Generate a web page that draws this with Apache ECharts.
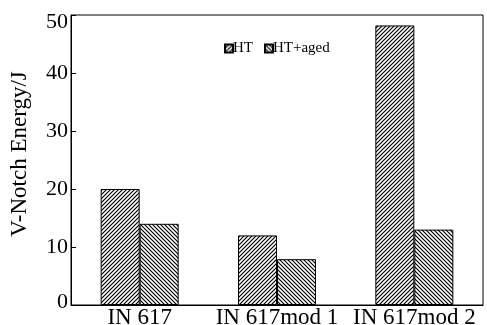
<!DOCTYPE html>
<html><head><meta charset="utf-8">
<script src="https://cdn.jsdelivr.net/npm/echarts@6/dist/echarts.min.js"></script>
<style>html,body{margin:0;padding:0;background:#fff}#c{width:487px;height:325px}</style>
</head><body><div id="c"></div>
<script>
const categories = ['IN 617', 'IN 617mod 1', 'IN 617mod 2'];
const htValues = [20, 12, 48.2];
const agedValues = [14, 7.9, 13];
const yTicks = [0, 10, 20, 30, 40, 50];

function hatch(dir) {
  const s = 4;
  const c = document.createElement('canvas');
  c.width = s; c.height = s;
  const g = c.getContext('2d');
  g.fillStyle = '#fff'; g.fillRect(0, 0, s, s);
  g.strokeStyle = '#000'; g.lineWidth = 1.2;
  g.beginPath();
  if (dir > 0) {
    g.moveTo(-1, s + 1); g.lineTo(s + 1, -1);
    g.moveTo(-1, 1); g.lineTo(1, -1);
    g.moveTo(s - 1, s + 1); g.lineTo(s + 1, s - 1);
  } else {
    g.moveTo(-1, -1); g.lineTo(s + 1, s + 1);
    g.moveTo(s - 1, -1); g.lineTo(s + 1, 1);
    g.moveTo(-1, s - 1); g.lineTo(1, s + 1);
  }
  g.stroke();
  return { image: c, repeat: 'repeat' };
}

const font = '"Liberation Serif", "Times New Roman", serif';
const chart = echarts.init(document.getElementById('c'), null, { renderer: 'canvas' });
chart.setOption({
  animation: false,
  backgroundColor: '#fff',
  textStyle: { fontFamily: font, color: '#000' },
  grid: { left: 71, right: 4, top: 15, bottom: 20, show: true, borderColor: '#000', borderWidth: 1,
          containLabel: false, outerBoundsMode: 'none' },
  legend: {
    top: 36, left: 219,
    itemWidth: 8, itemHeight: 8, itemGap: 11,
    icon: 'rect',
    textStyle: { fontFamily: font, fontSize: 15, color: '#000', padding: [0, 0, 0, -5] },
    data: ['HT', 'HT+aged']
  },
  xAxis: {
    type: 'category', data: categories,
    axisLine: { lineStyle: { color: '#000' } },
    axisTick: { show: false },
    axisLabel: { fontFamily: font, fontSize: 23, color: '#000', margin: 1, interval: 0, hideOverlap: false }
  },
  yAxis: {
    type: 'value', min: 0, max: 50, interval: 10,
    name: 'V-Notch Energy/J', nameLocation: 'middle', nameGap: 40,
    nameTextStyle: { fontFamily: font, fontSize: 23, color: '#000', padding: [0, 0, 0, 12] },
    axisLine: { show: true, lineStyle: { color: '#000' } },
    axisTick: { show: true, inside: true, length: 5, lineStyle: { color: '#000' } },
    axisLabel: {
      fontFamily: font, fontSize: 22, color: '#000', margin: 3,
      formatter: v => {
        if (!yTicks.includes(v)) return '';
        if (v === 50) return '{top|' + v + '}';
        if (v === 0) return '{bot|' + v + '}';
        return String(v);
      },
      rich: {
        top: { fontFamily: font, fontSize: 22, color: '#000', padding: [15, 0, 0, 0] },
        bot: { fontFamily: font, fontSize: 22, color: '#000', padding: [0, 0, 5, 0] }
      }
    },
    splitLine: { show: false }
  },
  series: [
    { name: 'HT', type: 'bar', data: htValues, barWidth: 39, barGap: '0%',
      itemStyle: { color: hatch(1), borderColor: '#000', borderWidth: 1 } },
    { name: 'HT+aged', type: 'bar', data: agedValues, barWidth: 39, barGap: '0%',
      itemStyle: { color: hatch(-1), borderColor: '#000', borderWidth: 1 } }
  ]
});
</script></body></html>
